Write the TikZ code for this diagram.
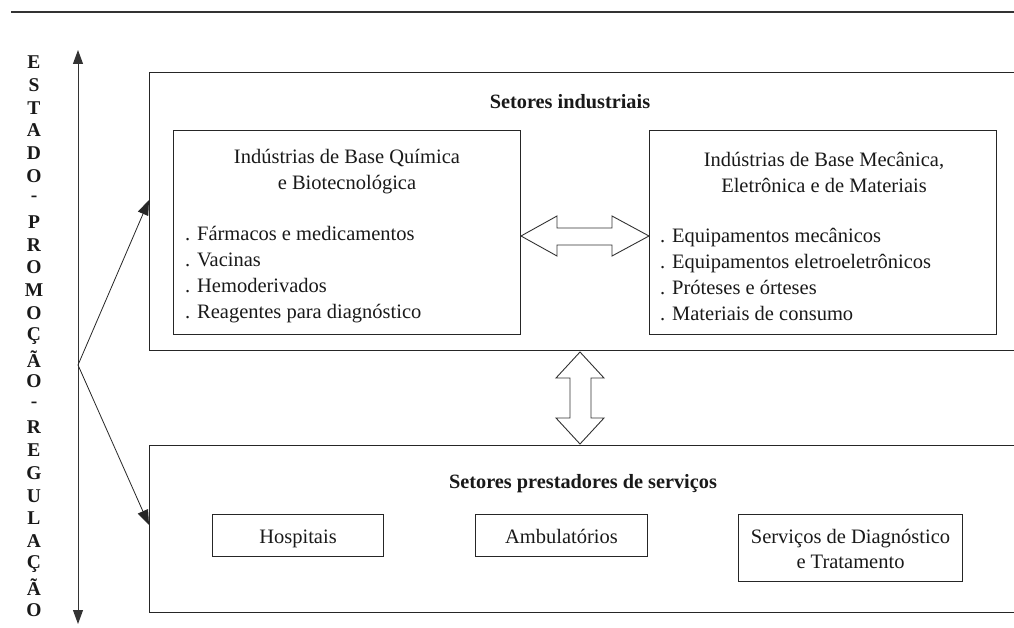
\documentclass[tikz,border=0pt]{standalone}
\usepackage{fontspec}
\setmainfont{Liberation Serif}
\usetikzlibrary{arrows.meta,calc}
\tikzset{
  frame/.style={draw=black!85,line width=1pt},
  ibox/.style={draw=black!85,line width=1pt,inner sep=0pt,anchor=north west},
  body/.style={font=\fontsize{20.5}{26}\selectfont,inner sep=0pt,text=black!90},
  ttl/.style={font=\fontsize{20.3}{22}\selectfont\bfseries,inner sep=0pt,text=black!90},
  letter/.style={font=\fontsize{19.5}{19.5}\selectfont\bfseries,inner sep=0pt,text=black!90},
  harrow/.style={draw=black!80,line width=0.9pt,fill=white},
  tip/.style={-{Triangle[length=15pt,width=11pt]}}
}
\begin{document}
\begin{tikzpicture}[x=1pt,y=-1pt]
\useasboundingbox (0,0) rectangle (1014,628);
% top rule
\draw[line width=1.3pt,black!80] (11,12) -- (1014,12);
% vertical letters
\foreach \l [count=\i from 0] in {E,S,T,A,D,O,-,P,R,O,M,O,Ç,Ã,O,-,R,E,G,U,L,A,Ç,Ã,O}
  \node[letter] (ch\i) at (34,62+22.83*\i) {\l};
% vertical double arrow
\coordinate (vtop) at (78,50);
\coordinate (vbot) at (78,624);
\draw[line width=1pt,black!80,{Triangle[length=14pt,width=10pt]}-{Triangle[length=14pt,width=10pt]}] (vtop) -- (vbot);
\coordinate (branch) at (78,365);
% outer frames (open on the right)
\draw[frame] (1014,73) -- (149,73) -- (149,350) -- (1014,350);
\draw[frame] (1014,445) -- (149,445) -- (149,612) -- (1014,612);
\coordinate (topin) at (149,200);
\coordinate (botin) at (149,525);
\draw[line width=0.8pt,black!85,tip] (branch) -- (topin);
\draw[line width=0.8pt,black!85,tip] (branch) -- (botin);
% titles
\node[ttl] (t1) at (570,102) {Setores industriais};
\node[ttl] (t2) at (583,484) {Setores prestadores de serviços};
% inner boxes
\node[ibox,minimum width=347pt,minimum height=204pt] (L) at (173,130) {};
\node[ibox,minimum width=347pt,minimum height=204pt] (R) at (649,130) {};
\node[body,align=center] (Lt) at (347,172) {Indústrias de Base Química\\e Biotecnológica};
\node[body,align=left,anchor=west] (Ll) at (185,275) {. Fármacos e medicamentos\\. Vacinas\\. Hemoderivados\\. Reagentes para diagnóstico};
\node[body,align=center] (Rt) at (824,172) {Indústrias de Base Mecânica,\\Eletrônica e de Materiais};
\node[body,align=left,anchor=west] (Rl) at (660,275) {. Equipamentos mecânicos\\. Equipamentos eletroeletrônicos\\. Próteses e órteses\\. Materiais de consumo};
% horizontal double arrow between L and R
\draw[harrow] (L.east |- 0,236) -- (557,216) -- (557,228) -- (612,228) -- (612,216) -- (R.west |- 0,236) -- (612,256) -- (612,245) -- (557,245) -- (557,256) -- cycle;
% vertical double arrow between frames
\draw[harrow] (580,352) -- (604,378) -- (591,378) -- (591,418) -- (604,418) -- (580,444) -- (556,418) -- (570,418) -- (570,378) -- (556,378) -- cycle;
% service boxes
\node[ibox,minimum width=171pt,minimum height=42pt] (H) at (212,514) {};
\node[body,anchor=base] (Ht) at (H.center |- 0,543) {Hospitais};
\node[ibox,minimum width=172pt,minimum height=42pt] (A) at (475,514) {};
\node[body,anchor=base] (At) at (A.center |- 0,543) {Ambulatórios};
\node[ibox,minimum width=224pt,minimum height=67pt] (S) at (738,514) {};
\node[body,anchor=base] (St1) at (S.center |- 0,543) {Serviços de Diagnóstico};
\node[body,anchor=base] (St2) at (S.center |- 0,568) {e Tratamento};
\end{tikzpicture}
\end{document}
